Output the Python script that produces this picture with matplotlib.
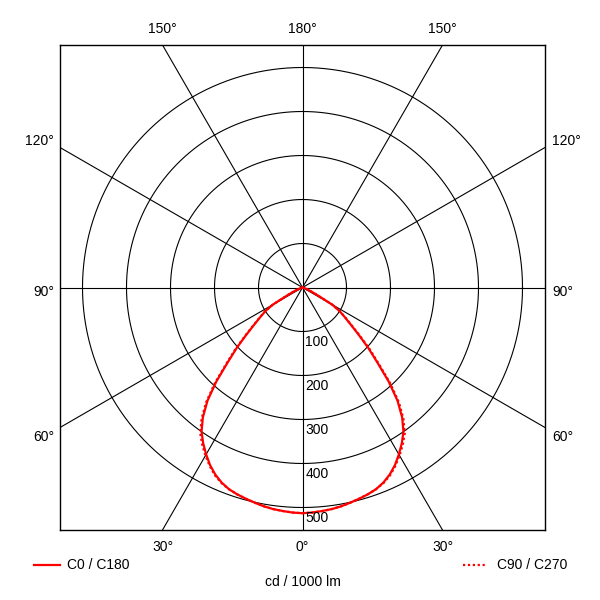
import numpy as np
import matplotlib
matplotlib.use("Agg")
import matplotlib.pyplot as plt

plt.rcParams['font.family'] = ['Liberation Sans', 'DejaVu Sans']

# ---- data ----
gamma = [0, 2.5, 5, 7.5, 10, 12.5, 15, 17.5, 20, 22.5, 25, 27.5, 30, 32.5, 35, 37.5, 40, 42.5,
         45, 47.5, 50, 52.5, 55, 57.5, 60, 62.5, 65, 67.5, 70, 72.5, 75, 77.5, 80, 82.5, 85, 87.5, 90]
c0_c180 = [513, 512, 510, 508, 505, 501, 497, 493, 488, 480, 469, 455, 438, 420, 400, 372, 336, 290,
           240, 202, 166, 138, 117, 100, 78, 40, 24, 14, 8, 5, 3, 2, 1, 1, 0, 0, 0]
c90_c270 = [513, 512, 510, 508, 505, 501, 497, 493, 488, 481, 471, 457, 441, 424, 405, 377, 341, 295,
            245, 206, 169, 140, 119, 101, 78, 40, 24, 14, 8, 5, 3, 2, 1, 1, 0, 0, 0]
ring_values = [100, 200, 300, 400, 500]
spoke_angles = [0, 30, 60, 90, 120, 150]
top_labels = ['150°', '180°', '150°']
side_labels = ['120°', '90°', '60°']
bottom_labels = ['30°', '0°', '30°']
legend_labels = ['C0 / C180', 'C90 / C270']
unit_label = 'cd / 1000 lm'

W = H = 600
fig = plt.figure(figsize=(6, 6), dpi=100)
box_l, box_t, box_r, box_b = 60, 45, 545, 530
ax = fig.add_axes([box_l / W, 1 - box_b / H, (box_r - box_l) / W, (box_b - box_t) / H])
scale = 0.44  # px per cd
R = (box_r - box_l) / 2 / scale
ax.set_xlim(-R, R)
ax.set_ylim(-R, R)
ax.set_aspect('equal')
ax.set_xticks([])
ax.set_yticks([])
for s in ax.spines.values():
    s.set_linewidth(1.0)
    s.set_color('black')

# rings
t = np.linspace(0, 2 * np.pi, 721)
for rv in ring_values:
    ax.plot(rv * np.cos(t), rv * np.sin(t), color='black', lw=0.8, zorder=1)

# spokes
L = 3000
for a in spoke_angles:
    ar = np.radians(a)
    ax.plot([-L * np.sin(ar), L * np.sin(ar)], [L * np.cos(ar), -L * np.cos(ar)],
            color='black', lw=0.8, zorder=1)

# curves
def full_curve(g, vals):
    g = np.radians(np.array(g, dtype=float))
    v = np.array(vals, dtype=float)
    ang = np.concatenate([-g[::-1], g[1:]])
    rr = np.concatenate([v[::-1], v[1:]])
    return rr * np.sin(ang), -rr * np.cos(ang)

x0, y0 = full_curve(gamma, c0_c180)
x1, y1 = full_curve(gamma, c90_c270)
ax.plot(x0, y0, color='#ff0000', lw=1.6, zorder=3, solid_joinstyle='round')
ax.plot(x1, y1, color='#ff0000', lw=1.6, ls=(0, (1, 1.2)), zorder=4)

# radial value labels
for rv in ring_values:
    ax.annotate(str(rv), xy=(0, -rv), xytext=(3, -3), textcoords='offset pixels',
                ha='left', va='top', fontsize=10, color='black', zorder=5)

def fpos(x, y):
    return x / W, 1 - y / H

cx = (box_l + box_r) / 2
half = (box_r - box_l) / 2
off = half * np.tan(np.radians(30))
# top labels
for lab, x in zip(top_labels, [cx - off, cx, cx + off]):
    fig.text(*fpos(x, 29), lab, ha='center', va='center', fontsize=10)
# bottom labels
for lab, x in zip(bottom_labels, [cx - off, cx, cx + off]):
    fig.text(*fpos(x, 547), lab, ha='center', va='center', fontsize=10)
# side labels
for lab, y in zip(side_labels, [141, 292, 437]):
    fig.text(*fpos(box_l - 6, y), lab, ha='right', va='center', fontsize=10)
    fig.text(*fpos(box_r + 7, y), lab, ha='left', va='center', fontsize=10)

# legend
ly = 565
fig.add_artist(plt.Line2D([34 / W, 60 / W], [1 - ly / H, 1 - ly / H], color='#ff0000', lw=1.6))
fig.text(*fpos(67, ly), legend_labels[0], ha='left', va='center', fontsize=10)
fig.add_artist(plt.Line2D([463 / W, 487 / W], [1 - ly / H, 1 - ly / H], color='#ff0000', lw=1.6,
                          ls=(0, (1, 1.2))))
fig.text(*fpos(497, ly), legend_labels[1], ha='left', va='center', fontsize=10)
fig.text(*fpos(cx, 582), unit_label, ha='center', va='center', fontsize=10)

fig.savefig('out.png', dpi=100, facecolor='white')
